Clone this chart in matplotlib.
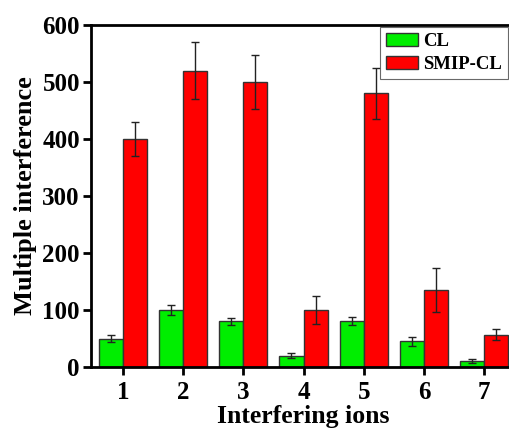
import numpy as np
import matplotlib.pyplot as plt

ions = [1, 2, 3, 4, 5, 6, 7]
cl_mean = [50, 100, 80, 20, 80, 45, 10]
cl_err = [5.5, 8, 6, 4, 7, 7.5, 3.5]
smip_mean = [400, 520, 500, 100, 480, 135, 57]
smip_err = [30, 50, 48, 25, 45, 39, 9]

plt.rcParams['font.family'] = ['Liberation Serif', 'DejaVu Serif']
plt.rcParams['font.weight'] = 'bold'

fig = plt.figure(figsize=(5.09, 4.33), dpi=100)
# axes run past the right edge of the figure, as in the reference
ax = fig.add_axes([91 / 509, 1 - 367 / 433, 425 / 509, 342 / 433])

x = np.array(ions)
w = 0.4
err_kw = dict(ecolor='#222222', elinewidth=1.0, capsize=3, capthick=1.0)
ax.bar(x - w / 2, cl_mean, w, yerr=cl_err, color='#00ee00', edgecolor='#333333',
       linewidth=1.0, label='CL', error_kw=err_kw)
ax.bar(x + w / 2, smip_mean, w, yerr=smip_err, color='#ff0000', edgecolor='#333333',
       linewidth=1.0, label='SMIP-CL', error_kw=err_kw)

ax.set_xlim(0.47, 7.53)
ax.set_ylim(0, 600)
ax.set_xticks(ions)
ax.set_yticks(range(0, 601, 100))

for s in ax.spines.values():
    s.set_linewidth(2)
ax.tick_params(axis='x', direction='out', length=6, width=2, labelsize=18, pad=4)
ax.tick_params(axis='y', direction='out', length=6, width=2, labelsize=18, pad=2)

ax.set_xlabel('Interfering ions', fontsize=18.5, fontweight='bold', labelpad=1)
ax.set_ylabel('Multiple interference', fontsize=19, fontweight='bold', labelpad=4)

leg = ax.legend(loc='upper left', bbox_to_anchor=(287 / 425, 1.0), fontsize=13.5,
                frameon=True, fancybox=False, edgecolor='#444444',
                handlelength=1.75, handleheight=0.75, handletextpad=0.25,
                borderpad=0.3, labelspacing=0.3, borderaxespad=0.1)
leg.get_frame().set_linewidth(0.8)

fig.savefig('out.png', dpi=100)
